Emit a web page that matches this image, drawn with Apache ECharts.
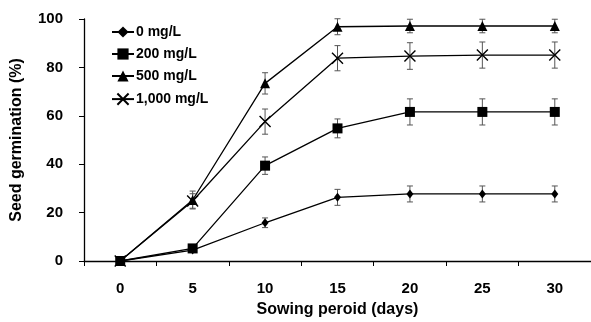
<!DOCTYPE html>
<html><head><meta charset="utf-8">
<script src="https://cdn.jsdelivr.net/npm/echarts@6/dist/echarts.min.js"></script>
<style>html,body{margin:0;padding:0;background:#fff}#c{width:591px;height:322px}</style>
</head><body><div id="c"></div>
<script>
const categories = ['0', '5', '10', '15', '20', '25', '30'];
const seriesNames = ['0 mg/L', '200 mg/L', '500 mg/L', '1,000 mg/L'];
const s0 = [0, 4.5, 15.8, 26.3, 27.7, 27.7, 27.7];
const e0 = [0, 1.0, 2.0, 3.3, 3.3, 3.3, 3.3];
const s200 = [0, 5.2, 39.4, 54.8, 61.6, 61.6, 61.6];
const e200 = [0, 1.0, 3.6, 3.9, 5.4, 5.4, 5.4];
const s500 = [0, 25.2, 73.4, 96.8, 97.1, 97.1, 97.1];
const e500 = [0, 3.7, 4.4, 3.3, 2.8, 2.8, 2.8];
const s1000 = [0, 24.8, 57.6, 83.8, 84.7, 85.1, 85.1];
const e1000 = [0, 3.0, 5.2, 5.2, 5.5, 5.4, 5.4];

const values = [s0, s200, s500, s1000];
const errors = [e0, e200, e500, e1000];
const symbols = ['diamond', 'rect', 'triangle', 'path://M0,0L10,10M10,0L0,10'];
const sizes = [[7, 9], 10, 10, 11];

const FONT = 'Liberation Sans, Arial, sans-serif';
const chart = echarts.init(document.getElementById('c'));

function errItem(params, api) {
  const x = api.value(0);
  const lo = api.coord([x, api.value(1)]);
  const hi = api.coord([x, api.value(2)]);
  const cw = 3;
  const st = { stroke: '#555', lineWidth: 1 };
  return {
    type: 'group',
    children: [
      { type: 'line', shape: { x1: lo[0], y1: lo[1], x2: hi[0], y2: hi[1] }, style: st },
      { type: 'line', shape: { x1: lo[0] - cw, y1: lo[1], x2: lo[0] + cw, y2: lo[1] }, style: st },
      { type: 'line', shape: { x1: hi[0] - cw, y1: hi[1], x2: hi[0] + cw, y2: hi[1] }, style: st }
    ]
  };
}

const series = [];
values.forEach((vals, i) => {
  series.push({
    type: 'custom',
    renderItem: errItem,
    z: 1,
    silent: true,
    data: vals.map((v, j) => [j, v - errors[i][j], v + errors[i][j]])
  });
});
values.forEach((vals, i) => {
  const isCross = i === 3;
  series.push({
    name: seriesNames[i],
    type: 'line',
    z: 3,
    data: vals,
    symbol: symbols[i],
    symbolSize: sizes[i],
    showAllSymbol: true,
    lineStyle: { color: '#000', width: 1.3 },
    itemStyle: isCross ? { color: 'none', borderColor: '#000', borderWidth: 1.4 } : { color: '#000', borderWidth: 0 },
    animation: false
  });
});

chart.setOption({
  animation: false,
  textStyle: { fontFamily: FONT },
  grid: { left: 84, right: 0, top: 19, bottom: 61, outerBoundsMode: 'none', containLabel: false },
  legend: {
    data: seriesNames,
    orient: 'vertical',
    left: 106,
    top: 20,
    itemGap: 8,
    itemWidth: 22,
    itemHeight: 14,
    textStyle: { fontFamily: FONT, fontWeight: 'bold', fontSize: 14, color: '#000', padding: [0, 0, 0, -3] }
  },
  xAxis: {
    type: 'category',
    data: categories,
    boundaryGap: true,
    name: 'Sowing peroid (days)',
    nameLocation: 'middle',
    nameGap: 41,
    nameTextStyle: { fontFamily: FONT, fontWeight: 'bold', fontSize: 16, color: '#000' },
    axisLine: { lineStyle: { color: '#000', width: 1.3 } },
    axisTick: { show: true, length: 5, lineStyle: { color: '#000' } },
    axisLabel: { margin: 20, fontFamily: FONT, fontWeight: 'bold', fontSize: 15, color: '#000' },
    splitLine: { show: false }
  },
  yAxis: {
    type: 'value',
    min: 0,
    max: 100,
    interval: 20,
    name: 'Seed germination (%)',
    nameLocation: 'middle',
    nameRotate: 90,
    nameGap: 59,
    nameTextStyle: { fontFamily: FONT, fontWeight: 'bold', fontSize: 16, color: '#000' },
    axisLine: { show: true, lineStyle: { color: '#000', width: 1.3 } },
    axisTick: { show: true, length: 5, lineStyle: { color: '#000' } },
    axisLabel: { margin: 21, fontFamily: FONT, fontWeight: 'bold', fontSize: 15, color: '#000' },
    splitLine: { show: false }
  },
  series: series
});
</script>
</body></html>
